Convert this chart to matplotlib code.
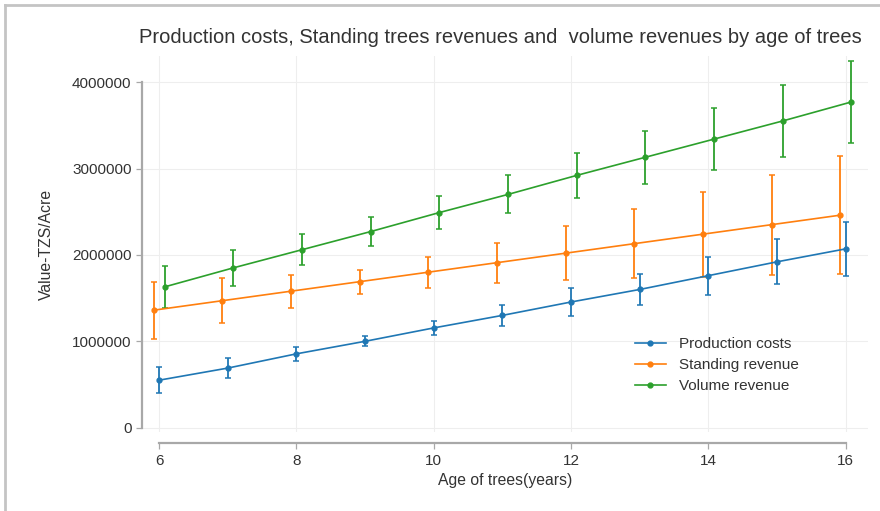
import numpy as np
import matplotlib.pyplot as plt
from matplotlib.lines import Line2D

plt.rcParams['font.family'] = ['Liberation Sans', 'DejaVu Sans']

age = [6, 7, 8, 9, 10, 11, 12, 13, 14, 15, 16]

# means and half-widths of the intervals, TZS per acre
prod_cost = [550000, 690000, 855000, 1000000, 1155000, 1300000, 1455000, 1600000, 1760000, 1920000, 2070000]
prod_err = [150000, 120000, 80000, 60000, 80000, 120000, 160000, 180000, 220000, 260000, 310000]

stand_rev = [1360000, 1470000, 1580000, 1690000, 1800000, 1910000, 2020000, 2130000, 2240000, 2350000, 2460000]
stand_err = [330000, 260000, 190000, 140000, 180000, 230000, 310000, 400000, 490000, 580000, 680000]

vol_rev = [1630000, 1850000, 2060000, 2270000, 2490000, 2700000, 2920000, 3130000, 3340000, 3550000, 3770000]
vol_err = [240000, 210000, 180000, 170000, 190000, 220000, 260000, 310000, 360000, 420000, 470000]

series = [
    ('Production costs', prod_cost, prod_err, '#1f77b4', 0.0),
    ('Standing revenue', stand_rev, stand_err, '#ff7f0e', -0.08),
    ('Volume revenue', vol_rev, vol_err, '#2ca02c', 0.08),
]

fig = plt.figure(figsize=(8.8, 5.11), dpi=100)
ax = fig.add_axes([0.1614, 0.1546, 0.8246, 0.7354])

x = np.array(age, dtype=float)
handles = []
for name, vals, err, col, shift in series:
    ax.errorbar(x + shift, vals, yerr=err, color=col, ecolor=col, elinewidth=1.3,
                capsize=2.3, capthick=1.1, lw=1.2, marker='o', ms=3.5, zorder=3)
    handles.append(Line2D([], [], color=col, lw=1.2, marker='o', ms=3.5, label=name))

ax.set_xlim(5.75, 16.32)
ax.set_ylim(-50000, 4300000)
ax.set_xticks([6, 8, 10, 12, 14, 16])
ax.set_yticks([0, 1000000, 2000000, 3000000, 4000000])
ax.set_yticklabels(['0', '1000000', '2000000', '3000000', '4000000'])

ax.grid(True, color='#eeeeee', lw=0.8, zorder=0)
ax.set_axisbelow(True)

for s in ['top', 'right']:
    ax.spines[s].set_visible(False)
ax.spines['left'].set_bounds(0, 4000000)
ax.spines['bottom'].set_bounds(6, 16)
ax.spines['bottom'].set_position(('outward', 8))
for s in ['left', 'bottom']:
    ax.spines[s].set_color('#a8a8a8')
    ax.spines[s].set_linewidth(1.6)
ax.tick_params(colors='#a8a8a8', labelcolor='#333333', labelsize=11, length=4, width=0.9)

ax.set_xlabel('Age of trees(years)', fontsize=11.3, color='#333333', labelpad=4)
ax.set_ylabel('Value-TZS/Acre', fontsize=11.3, color='#333333', labelpad=13)

fig.text(0.569, 0.927, 'Production costs, Standing trees revenues and  volume revenues by age of trees',
         ha='center', va='center', fontsize=14.5, color='#333333')

ax.legend(handles=handles, loc='upper left', bbox_to_anchor=(0.7216, 0.3405),
          bbox_transform=fig.transFigure, frameon=False, fontsize=11,
          handlelength=2.0, handletextpad=0.9, labelspacing=0.46,
          borderpad=0, borderaxespad=0, labelcolor='#333333')

# thin frame on the top and left edges of the figure
fig.add_artist(Line2D([0.006, 1.0], [0.991, 0.991], transform=fig.transFigure, color='#c4c4c4', lw=2))
fig.add_artist(Line2D([0.006, 0.006], [0.0, 0.991], transform=fig.transFigure, color='#c4c4c4', lw=2))

fig.savefig('out.png', dpi=100)
